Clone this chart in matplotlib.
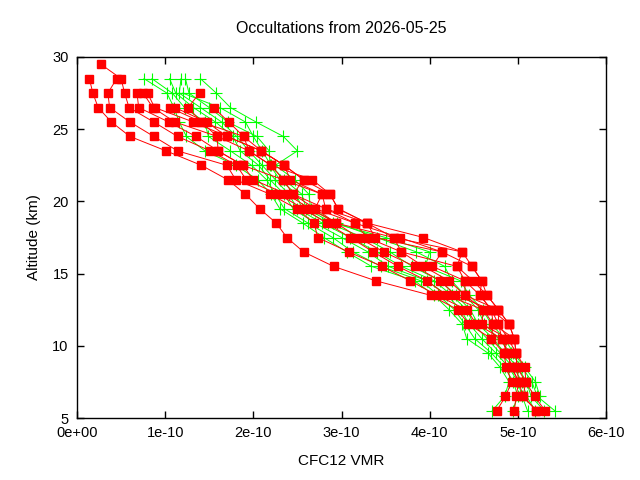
import numpy as np
import matplotlib
matplotlib.use("Agg")
import matplotlib.pyplot as plt
from matplotlib.ticker import FuncFormatter

nan = np.nan
title = "Occultations from 2026-05-25"
xlabel = "CFC12 VMR"
ylabel = "Altitude (km)"

# altitude levels (km)
red_alt = [29.5, 28.5, 27.5, 26.5, 25.5, 24.5, 23.5, 22.5, 21.5, 20.5, 19.5, 18.5, 17.5,
           16.5, 15.5, 14.5, 13.5, 12.5, 11.5, 10.5, 9.5, 8.5, 7.5, 6.5, 5.5]
green_alt = [28.5, 27.5, 26.5, 25.5, 24.5, 23.5, 22.5, 21.5, 20.5, 19.5, 18.5, 17.5,
             16.5, 15.5, 14.5, 13.5, 12.5, 11.5, 10.5, 9.5, 8.5, 7.5, 6.5, 5.5]

# VMR values in units of 1e-10
red_profiles = [
    [nan, 0.14, 0.18, 0.24, 0.39, 0.60, 1.01, 1.41, 1.71, 1.91, 2.07, 2.26, 2.38, 2.57, 2.91, 3.39, 4.01, 4.32, 4.44, 4.70, 4.84, 4.87, 4.93, 4.86, 4.76],
    [nan, 0.45, 0.35, 0.37, 0.60, 0.87, 1.14, 1.70, 1.80, 2.19, 2.49, 2.69, 2.73, 3.08, 3.46, 3.78, 4.08, 4.42, 4.53, 4.82, 4.88, 4.93, 5.01, 4.98, 4.96],
    [0.27, 0.50, 0.54, 0.59, 0.87, 1.14, 1.51, 1.81, 1.92, 2.28, 2.57, 2.83, 3.10, 3.36, 3.64, 3.97, 4.19, 4.61, 4.59, 4.89, 4.98, 4.99, 5.09, 5.06, 5.21],
    [nan, nan, 0.68, 0.70, 1.04, 1.35, 1.60, 1.88, 2.00, 2.38, 2.64, 2.94, 3.19, 3.48, 3.83, 4.12, 4.29, 4.70, 4.72, 4.96, 4.98, 5.08, 5.09, 5.19, 5.31],
    [nan, nan, 0.75, 0.86, 1.11, 1.59, 1.95, 2.20, 2.34, 2.45, 2.70, 3.15, 3.29, 3.68, 3.93, 4.22, 4.40, 4.78, 4.78, 4.82, 4.88, 4.93, 5.01, nan, nan],
    [nan, nan, 0.80, 0.88, 1.32, 1.70, 2.09, 2.35, 2.42, 2.78, 2.82, 3.29, 3.38, 4.14, 4.03, 4.40, 4.57, 4.70, 4.90, 4.96, 4.98, 4.99, 5.01, 5.06, 5.21],
    [nan, nan, nan, 1.05, 1.41, 1.89, 2.09, 2.35, 2.57, 2.87, 2.96, 3.29, 3.59, 4.37, 4.31, 4.49, 4.65, 4.78, 4.90, 4.96, nan, nan, nan, nan, nan],
    [nan, nan, 1.39, 1.26, 1.41, 1.59, 1.60, 1.88, 2.34, 2.78, 2.70, 2.94, 3.59, 3.68, 4.31, 4.40, 4.40, 4.61, 4.72, 4.70, nan, nan, nan, nan, nan],
    [nan, nan, nan, 1.11, 1.47, 1.70, 2.09, 2.35, 2.57, 2.45, 2.82, 3.15, 3.66, 4.14, 4.48, 4.59, 4.57, 4.70, 4.78, 4.89, 4.84, nan, nan, nan, nan],
    [nan, nan, nan, 1.55, 1.72, 1.89, 1.95, 2.20, 2.67, 2.87, 2.96, 3.29, 3.93, 4.37, 4.48, 4.59, 4.65, 4.78, 4.90, nan, nan, nan, nan, nan, nan],
]

green_profiles = [
    [0.76, 1.02, 1.10, 1.16, 1.24, 1.45, 1.80, 2.05, 2.20, 2.30, 2.56, 2.80, 3.06, 3.34, 3.83, 4.05, 4.22, 4.37, 4.42, 4.66, 4.80, 4.90, 4.85, 4.71],
    [0.85, 1.08, 1.22, 1.45, 1.49, 1.74, 1.98, 2.15, 2.25, 2.35, 2.62, 2.90, 3.13, 3.45, 3.90, 4.10, 4.28, 4.40, 4.51, 4.70, 4.85, 4.95, 5.00, 4.94],
    [1.05, 1.12, 1.32, 1.57, 1.77, 1.85, 2.06, 2.19, 2.35, 2.45, 2.70, 3.00, 3.30, 3.53, 3.97, 4.20, 4.35, 4.45, 4.59, 4.75, 4.90, 5.00, 5.05, 5.11],
    [1.18, 1.16, 1.40, 1.64, 1.81, 1.95, 2.10, 2.25, 2.40, 2.50, 2.78, 3.10, 3.40, 3.68, 4.05, 4.25, 4.42, 4.50, 4.65, 4.80, 4.95, 5.05, 5.10, 5.20],
    [1.23, 1.27, 1.50, 1.71, 2.04, 2.18, 2.19, 2.30, 2.49, 2.55, 2.85, 3.25, 3.55, 3.80, 4.12, 4.30, 4.46, 4.55, 4.72, 4.85, 5.00, 5.10, 5.15, 5.30],
    [1.40, 1.58, 1.74, 2.03, 2.34, 2.50, 2.25, 2.47, 2.63, 2.65, 2.95, 3.40, 3.85, 4.17, 4.25, 4.40, 4.55, 4.62, 4.78, 4.92, 5.05, 5.16, 5.22, 5.42],
    [nan, 1.20, 1.62, 1.91, 2.00, 2.10, 2.20, 2.35, 2.55, 2.60, 2.90, 3.50, 4.00, 3.95, 4.35, 4.45, 4.60, 4.70, 4.85, 4.95, 5.08, 5.20, 5.25, nan],
]

xticks = [0, 1, 2, 3, 4, 5, 6]
yticks = [5, 10, 15, 20, 25, 30]

plt.rcParams['font.family'] = ['Liberation Sans', 'DejaVu Sans']
fig = plt.figure(figsize=(6.4, 4.8), dpi=100)
ax = fig.add_axes([77/640, 1-418/480, (606-77)/640, (418-57)/480])

scale = 1e-10
for prof in green_profiles:
    x = np.array(prof) * scale
    ax.plot(x, green_alt, color='#00ff00', lw=0.7, marker='+', ms=8,
            mew=0.8, zorder=2)
for prof in red_profiles:
    x = np.array(prof) * scale
    ax.plot(x, red_alt, color='#ff0000', lw=0.7, marker='s', ms=5.2,
            mec='#ff0000', mfc='#ff0000', zorder=3)

ax.set_xlim(0, 6e-10)
ax.set_ylim(5, 30)
ax.set_xticks([t * scale for t in xticks])
ax.set_yticks(yticks)
def fmt(v, pos):
    if abs(v) < 1e-20:
        return "0e+00"
    return "{:.0f}e-10".format(v / 1e-10)
ax.xaxis.set_major_formatter(FuncFormatter(fmt))
ax.tick_params(direction='in', top=True, right=True, length=5, width=1,
               labelsize=10.5, pad=6, colors='black')
for s in ax.spines.values():
    s.set_linewidth(1)
ax.set_title(title, fontsize=11.5, pad=17)
ax.set_xlabel(xlabel, fontsize=11, labelpad=10)
ax.set_ylabel(ylabel, fontsize=11, labelpad=8)
fig.savefig("out.png", dpi=100)
